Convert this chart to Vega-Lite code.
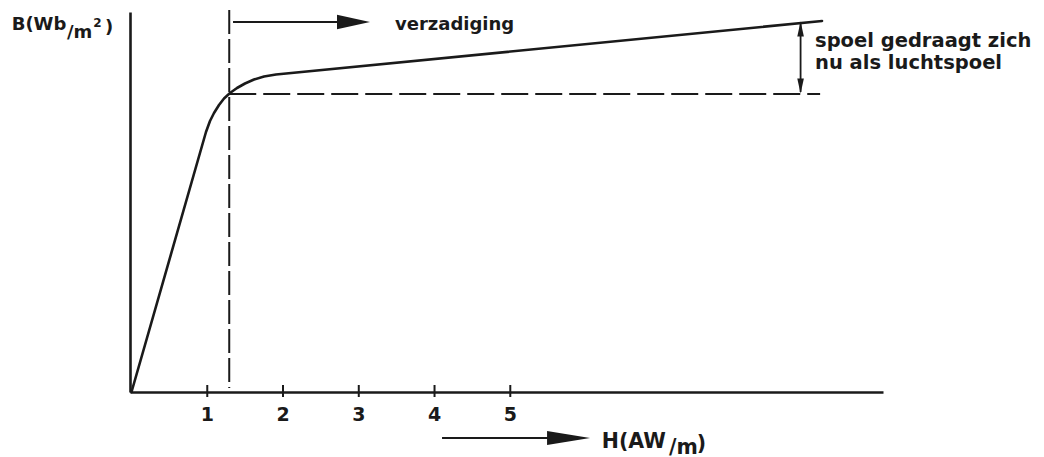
{
  "$schema": "https://vega.github.io/schema/vega-lite/v6.json",
  "width": 753,
  "height": 380,
  "autosize": {"type": "none"},
  "padding": {"left": 130, "top": 12, "right": 161, "bottom": 65},
  "background": "white",
  "config": {"view": {"stroke": null}},
  "encoding": {
    "x": {"field": "H", "type": "quantitative",
          "scale": {"domain": [-0.02, 9.92], "nice": false, "zero": false},
          "axis": {"title": null, "labels": false, "ticks": false, "grid": false, "domainColor": "#1a1a1a", "domainWidth": 2.6}},
    "y": {"field": "B", "type": "quantitative",
          "scale": {"domain": [0, 1.9], "nice": false, "zero": false},
          "axis": {"title": null, "labels": false, "ticks": false, "grid": false, "domainColor": "#1a1a1a", "domainWidth": 2.6}}
  },
  "layer": [
    {
      "data": {"values": [
        {"H": 0, "B": 0},
        {"H": 0.983, "B": 1.30},
        {"H": 1.036, "B": 1.355},
        {"H": 1.089, "B": 1.395},
        {"H": 1.155, "B": 1.435},
        {"H": 1.221, "B": 1.4675},
        {"H": 1.300, "B": 1.495},
        {"H": 1.3925, "B": 1.52},
        {"H": 1.498, "B": 1.5425},
        {"H": 1.617, "B": 1.5625},
        {"H": 1.749, "B": 1.5775},
        {"H": 1.907, "B": 1.5875},
        {"H": 9.115, "B": 1.855}
      ]},
      "mark": {"type": "line", "color": "#1a1a1a", "strokeWidth": 2.6, "strokeJoin": "round", "strokeCap": "round"},
      "encoding": {}
    },
    {
      "data": {"values": [
        {"H": 1, "B": 0.035, "B2": -0.025},
        {"H": 2, "B": 0.035, "B2": -0.025},
        {"H": 3, "B": 0.035, "B2": -0.025},
        {"H": 4, "B": 0.035, "B2": -0.025},
        {"H": 5, "B": 0.035, "B2": -0.025}
      ]},
      "mark": {"type": "rule", "color": "#1a1a1a", "strokeWidth": 2},
      "encoding": {"y2": {"field": "B2"}}
    },
    {
      "data": {"values": [{"H": 1.29, "B": 1.91, "B2": 0.02}]},
      "mark": {"type": "rule", "color": "#1a1a1a", "strokeWidth": 2, "strokeDash": [24, 5]},
      "encoding": {"y2": {"field": "B2"}}
    },
    {
      "data": {"values": [{"H": 1.29, "H2": 9.09, "B": 1.49}]},
      "mark": {"type": "rule", "color": "#1a1a1a", "strokeWidth": 2, "strokeDash": [27, 7]},
      "encoding": {"x2": {"field": "H2"}}
    },
    {
      "data": {"values": [{"H": 8.832, "B": 1.84, "B2": 1.50}]},
      "mark": {"type": "rule", "color": "#1a1a1a", "strokeWidth": 1.8},
      "encoding": {"y2": {"field": "B2"}}
    },
    {
      "data": {"values": [{"H": 8.832, "B": 1.852}]},
      "mark": {"type": "point", "shape": "M 0 0 L 0.22 1 L -0.22 1 Z", "size": 900, "filled": true, "opacity": 1, "color": "#1a1a1a"},
      "encoding": {}
    },
    {
      "data": {"values": [{"H": 8.832, "B": 1.493}]},
      "mark": {"type": "point", "shape": "M 0 0 L 0.22 -1 L -0.22 -1 Z", "size": 900, "filled": true, "opacity": 1, "color": "#1a1a1a"},
      "encoding": {}
    },
    {
      "data": {"values": [
        {"H": 1.34, "H2": 2.9, "B": 1.85},
        {"H": 4.099, "H2": 5.6, "B": -0.23}
      ]},
      "mark": {"type": "rule", "color": "#1a1a1a", "strokeWidth": 2.2},
      "encoding": {"x2": {"field": "H2"}}
    },
    {
      "data": {"values": [{"H": 3.148, "B": 1.85}]},
      "mark": {"type": "point", "shape": "M 0 0 L -1 -0.22 L -1 0.22 Z", "size": 4356, "filled": true, "opacity": 1, "color": "#1a1a1a"},
      "encoding": {}
    },
    {
      "data": {"values": [{"H": 6.053, "B": -0.23}]},
      "mark": {"type": "point", "shape": "M 0 0 L -1 -0.16 L -1 0.16 Z", "size": 7396, "filled": true, "opacity": 1, "color": "#1a1a1a"},
      "encoding": {}
    },
    {
      "data": {"values": [
        {"t": "B(Wb", "H": -1.582, "B": 1.81},
        {"t": "/m", "H": -0.852, "B": 1.7725},
        {"t": ")", "H": -0.35, "B": 1.795},
        {"t": "verzadiging", "H": 3.478, "B": 1.8125}
      ]},
      "mark": {"type": "text", "font": "DejaVu Sans", "fontWeight": "bold", "fontSize": 18, "align": "left", "baseline": "alphabetic", "color": "#1a1a1a"},
      "encoding": {"text": {"field": "t"}}
    },
    {
      "data": {"values": [
        {"t": "spoel gedraagt zich", "H": 9.023, "B": 1.7275},
        {"t": "nu als luchtspoel", "H": 9.023, "B": 1.6175}
      ]},
      "mark": {"type": "text", "font": "DejaVu Sans", "fontWeight": "bold", "fontSize": 19.5, "align": "left", "baseline": "alphabetic", "color": "#1a1a1a"},
      "encoding": {"text": {"field": "t"}}
    },
    {
      "data": {"values": [
        {"t": "H(AW", "H": 6.207, "B": -0.2775},
        {"t": "/m", "H": 7.095, "B": -0.3075},
        {"t": ")", "H": 7.46, "B": -0.2875}
      ]},
      "mark": {"type": "text", "font": "DejaVu Sans", "fontWeight": "bold", "fontSize": 20.5, "align": "left", "baseline": "alphabetic", "color": "#1a1a1a"},
      "encoding": {"text": {"field": "t"}}
    },
    {
      "data": {"values": [
        {"t": "1", "H": 1, "B": -0.145},
        {"t": "2", "H": 2, "B": -0.145},
        {"t": "3", "H": 3, "B": -0.145},
        {"t": "4", "H": 4, "B": -0.145},
        {"t": "5", "H": 5, "B": -0.145}
      ]},
      "mark": {"type": "text", "font": "DejaVu Sans", "fontWeight": "bold", "fontSize": 19, "align": "center", "baseline": "alphabetic", "color": "#1a1a1a"},
      "encoding": {"text": {"field": "t"}}
    },
    {
      "data": {"values": [{"t": "2", "H": -0.505, "B": 1.825}]},
      "mark": {"type": "text", "font": "DejaVu Sans", "fontWeight": "bold", "fontSize": 12, "align": "left", "baseline": "alphabetic", "color": "#1a1a1a"},
      "encoding": {"text": {"field": "t"}}
    }
  ]
}
